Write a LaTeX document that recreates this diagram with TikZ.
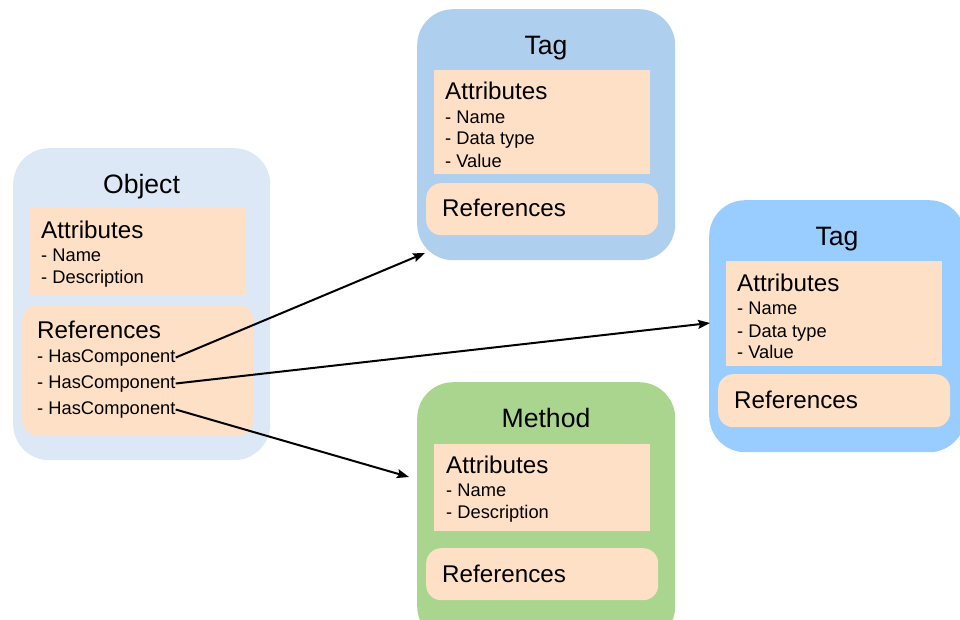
\documentclass[tikz,border=0pt]{standalone}
\usepackage{fontspec}
\setmainfont{Liberation Sans}
\usetikzlibrary{arrows.meta}

\definecolor{objbg}{HTML}{DCE8F6}
\definecolor{tagAbg}{HTML}{AECFED}
\definecolor{tagBbg}{HTML}{99CCFF}
\definecolor{methbg}{HTML}{A9D58E}
\definecolor{peach}{HTML}{FDE0C5}

\tikzset{
  outerbox/.style={draw=none, rounded corners=36pt, anchor=north west, inner sep=0pt},
  attrbox/.style={draw=none, fill=peach, anchor=north west, inner sep=0pt},
  refbox/.style={draw=none, fill=peach, rounded corners=15pt, anchor=north west, inner sep=0pt},
  titletext/.style={anchor=base, inner sep=0pt, font=\fontsize{26.6}{30}\selectfont},
  headtext/.style={anchor=base west, inner sep=0pt, font=\fontsize{24.2}{28}\selectfont},
  itemtext/.style={anchor=base west, inner sep=0pt, font=\fontsize{18.3}{22}\selectfont},
  link/.style={line width=2pt, -{Stealth[length=12pt,width=9pt,inset=2pt]}}
}

\begin{document}
\begin{tikzpicture}[x=1pt, y=-1pt]
  \useasboundingbox (0,0) rectangle (960,620);

  % ---- Object ----
  \node[outerbox, fill=objbg, minimum width=257pt, minimum height=312pt] (obj) at (13,148) {};
  \node[titletext] (objT) at (141.5,194) {Object};
  \node[attrbox, minimum width=216pt, minimum height=88pt] (objA) at (29,208) {};
  \node[headtext] (objAh) at (41,238) {Attributes};
  \node[itemtext] (objA1) at (41,261.5) {- Name};
  \node[itemtext] (objA2) at (41,283) {- Description};
  \node[refbox, minimum width=231pt, minimum height=130pt] (objR) at (22,305) {};
  \node[headtext] (objRh) at (37,338) {References};
  \node[itemtext] (hc1) at (37,362) {- HasComponent};
  \node[itemtext] (hc2) at (37,388) {- HasComponent};
  \node[itemtext] (hc3) at (37,414) {- HasComponent};

  % ---- Tag (top) ----
  \node[outerbox, fill=tagAbg, minimum width=258pt, minimum height=251pt] (tagA) at (417,9) {};
  \node[titletext] (tagAT) at (546,55) {Tag};
  \node[attrbox, minimum width=216pt, minimum height=104pt] (tagAA) at (434,70) {};
  \node[headtext] (tagAAh) at (445,100) {Attributes};
  \node[itemtext] (tagAA1) at (445,124) {- Name};
  \node[itemtext] (tagAA2) at (445,145) {- Data type};
  \node[itemtext] (tagAA3) at (445,168) {- Value};
  \node[refbox, minimum width=232pt, minimum height=52pt] (tagAR) at (426,183) {};
  \node[headtext] (tagARh) at (442,217) {References};

  % ---- Tag (right) ----
  \node[outerbox, fill=tagBbg, minimum width=256pt, minimum height=252pt] (tagB) at (709,200) {};
  \node[titletext] (tagBT) at (837,246) {Tag};
  \node[attrbox, minimum width=216pt, minimum height=105pt] (tagBA) at (726,261) {};
  \node[headtext] (tagBAh) at (737,291) {Attributes};
  \node[itemtext] (tagBA1) at (737,314) {- Name};
  \node[itemtext] (tagBA2) at (737,337) {- Data type};
  \node[itemtext] (tagBA3) at (737,358) {- Value};
  \node[refbox, minimum width=232pt, minimum height=53pt] (tagBR) at (718,374) {};
  \node[headtext] (tagBRh) at (734,408) {References};

  % ---- Method ----
  \node[outerbox, fill=methbg, minimum width=258pt, minimum height=260pt] (meth) at (417,382) {};
  \node[titletext] (methT) at (546,427) {Method};
  \node[attrbox, minimum width=216pt, minimum height=87pt] (methA) at (434,444) {};
  \node[headtext] (methAh) at (446,473) {Attributes};
  \node[itemtext] (methA1) at (446,496) {- Name};
  \node[itemtext] (methA2) at (446,518) {- Description};
  \node[refbox, minimum width=232pt, minimum height=52pt] (methR) at (426,548) {};
  \node[headtext] (methRh) at (442,582) {References};

  % ---- HasComponent links ----
  \coordinate (toTagA) at (425,253);
  \coordinate (toTagB) at (710,323);
  \coordinate (toMeth) at (409,477);
  \draw[link] (hc1.east) -- (toTagA);
  \draw[link] (hc2.east) -- (toTagB);
  \draw[link] (hc3.east) -- (toMeth);
\end{tikzpicture}
\end{document}
